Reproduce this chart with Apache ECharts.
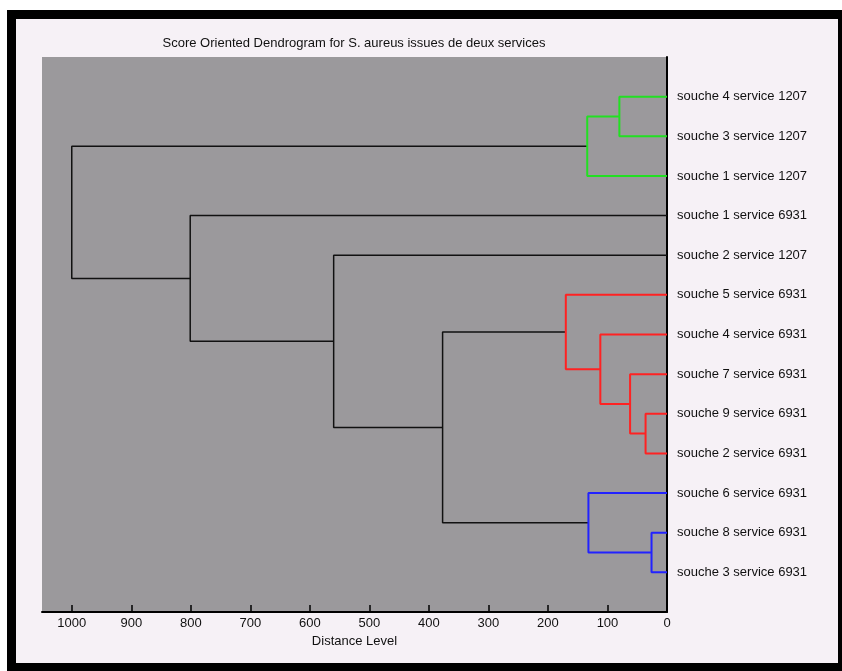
<!DOCTYPE html>
<html>
<head>
<meta charset="utf-8">
<script src="https://cdn.jsdelivr.net/npm/echarts@6/dist/echarts.min.js"></script>
<style>
  html, body { margin: 0; padding: 0; background: #ffffff; }
  #frame { position: absolute; left: 7px; top: 10px; width: 835px; height: 661px; background: #000; }
  #inner { position: absolute; left: 16px; top: 19px; width: 822px; height: 644px; background: #f6f1f6; }
  #chart { position: absolute; left: 0; top: 0; width: 842px; height: 671px; }
</style>
</head>
<body>
<div id="frame"></div>
<div id="inner"></div>
<div id="chart"></div>
<script>
// ---- Data ----
const titleText = "Score Oriented Dendrogram for S. aureus issues de deux services";
const xAxisName = "Distance Level";
// leaves in displayed order (top to bottom)
const leaves = [
  "souche 4 service 1207",
  "souche 3 service 1207",
  "souche 1 service 1207",
  "souche 1 service 6931",
  "souche 2 service 1207",
  "souche 5 service 6931",
  "souche 4 service 6931",
  "souche 7 service 6931",
  "souche 9 service 6931",
  "souche 2 service 6931",
  "souche 6 service 6931",
  "souche 8 service 6931",
  "souche 3 service 6931"
];
// merges: indices < 13 are leaves; merge k creates node 13+k
const mergeLeft   = [11, 8, 7, 0, 6, 10, 16, 5, 20, 4, 3, 19];
const mergeRight  = [12, 9, 14, 1, 15, 13, 2, 17, 18, 21, 22, 23];
const mergeHeight = [26, 36, 62, 80, 112, 132, 134, 170, 377, 560, 801, 1000];
const mergeGroup  = ["blue", "red", "red", "green", "red", "blue", "green", "red", "none", "none", "none", "none"];
const xTicks = [0, 100, 200, 300, 400, 500, 600, 700, 800, 900, 1000];

// ---- Build ----
const FONT = "Liberation Sans, Arial, sans-serif";
const groupColor = { green: "#22e022", red: "#ff2222", blue: "#2222ff", none: "#111111" };
const nLeaf = leaves.length;
const nodeY = [], nodeH = [];
for (let i = 0; i < nLeaf; i++) { nodeY[i] = i + 1; nodeH[i] = 0; }
const series = [];
for (let k = 0; k < mergeHeight.length; k++) {
  const a = mergeLeft[k], b = mergeRight[k], h = mergeHeight[k];
  const id = nLeaf + k;
  nodeY[id] = (nodeY[a] + nodeY[b]) / 2;
  nodeH[id] = h;
  const g = mergeGroup[k];
  series.push({
    type: "line",
    data: [[nodeH[a], nodeY[a]], [h, nodeY[a]], [h, nodeY[b]], [nodeH[b], nodeY[b]]],
    showSymbol: false,
    symbol: "none",
    silent: true,
    animation: false,
    lineStyle: { color: groupColor[g], width: g === "none" ? 1.5 : 2 },
    z: g === "none" ? 2 : 3
  });
}

const chart = echarts.init(document.getElementById("chart"), null, { renderer: "canvas" });
chart.setOption({
  backgroundColor: "transparent",
  animation: false,
  title: {
    text: titleText,
    left: 349,
    top: 32,
    textAlign: "center",
    textStyle: { fontFamily: FONT, fontSize: 13, fontWeight: "normal", color: "#111" }
  },
  grid: {
    left: 42, right: 175, top: 57, bottom: 59,
    show: true, backgroundColor: "#9b999c", borderWidth: 0
  },
  xAxis: {
    type: "value",
    min: 0, max: 1050, interval: 100,
    inverse: true,
    name: xAxisName,
    nameLocation: "middle",
    nameGap: 22,
    nameTextStyle: { fontFamily: FONT, fontSize: 13, color: "#111", verticalAlign: "top" },
    axisLine: { show: true, onZero: false, lineStyle: { color: "#000", width: 2 } },
    axisTick: { show: true, inside: true, length: 7, customValues: xTicks, lineStyle: { color: "#000", width: 1.5 } },
    axisLabel: {
      customValues: xTicks,
      margin: 5,
      fontFamily: FONT, fontSize: 13, color: "#111",
      formatter: function (v) { return String(v); }
    },
    splitLine: { show: false }
  },
  yAxis: {
    type: "value",
    min: 0, max: nLeaf + 1, interval: 1,
    inverse: true,
    position: "right",
    axisLine: { show: true, onZero: false, lineStyle: { color: "#000", width: 2 } },
    axisTick: { show: false },
    axisLabel: {
      margin: 10,
      fontFamily: FONT, fontSize: 13, color: "#111",
      formatter: function (v) { return (v >= 1 && v <= nLeaf) ? leaves[v - 1] : ""; }
    },
    splitLine: { show: false }
  },
  series: series
});
</script>
</body>
</html>
